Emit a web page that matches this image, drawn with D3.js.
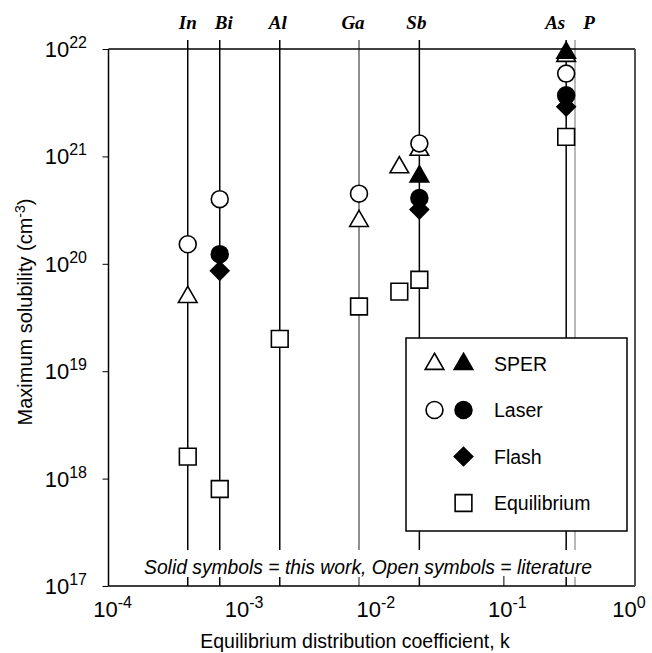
<!DOCTYPE html>
<html lang="en">
<head>
<meta charset="UTF-8">
<title>solubility vs k</title>
<script src="https://cdn.jsdelivr.net/npm/d3@7"></script>
<style>
  body { margin: 0; background: #fff; }
  text { font-family: "Liberation Sans", Arial, sans-serif; }
</style>
</head>
<body>
<svg id="chart" width="652" height="653"></svg>
<script>
// elements and their equilibrium distribution coefficients
const elements = ["In", "Bi", "Al", "Ga", "Sb", "As", "P"];
const kValues = [4e-4, 7e-4, 2e-3, 8e-3, 0.023, 0.3, 0.35];

// [k, max solubility]
const sperLit = [[4e-4, 4.9e19], [8e-3, 2.5e20], [0.0162, 7.9e20], [0.023, 1.15e21], [0.3, 8.6e21]];
const sperThis = [[0.023, 6.5e20], [0.3, 9.2e21]];
const laserLit = [[4e-4, 1.52e20], [7e-4, 4.0e20], [8e-3, 4.5e20], [0.023, 1.32e21], [0.3, 5.9e21]];
const laserThis = [[7e-4, 1.23e20], [0.023, 4.1e20], [0.3, 3.7e21]];
const flashThis = [[7e-4, 8.6e19], [0.023, 3.2e20], [0.3, 2.9e21]];
const equilibrium = [[4e-4, 1.6e18], [7e-4, 8.0e17], [2e-3, 2.0e19], [8e-3, 4.0e19], [0.0162, 5.5e19], [0.023, 7.1e19], [0.3, 1.52e21]];

const xTicks = [1e-4, 1e-3, 1e-2, 1e-1, 1];
const xTickExp = ["-4", "-3", "-2", "-1", "0"];
const yTicks = [1e17, 1e18, 1e19, 1e20, 1e21, 1e22];
const yTickExp = ["17", "18", "19", "20", "21", "22"];

const legendRows = ["SPER", "Laser", "Flash", "Equilibrium"];

const pLeft = 108.5, pRight = 635, pTop = 49, pBottom = 586;

const x = d3.scaleLog().domain([1e-4, 1]).range([pLeft, pRight]);
const y = d3.scaleLog().domain([1e17, 1e22]).range([pBottom, pTop]);

const svg = d3.select("#chart");

// element lines
svg.append("g")
    .selectAll("line")
    .data(kValues)
    .join("line")
    .attr("x1", d => x(d)).attr("x2", d => x(d))
    .attr("y1", 40).attr("y2", pBottom)
    .attr("stroke", (d, i) => elements[i] === "P" ? "#888" : (elements[i] === "Ga" ? "#444" : "#000"))
    .attr("stroke-width", (d, i) => elements[i] === "Ga" || elements[i] === "P" ? 1.2 : 1.5);

// top labels (small nudges so they sit like the original)
const labelShift = { In: 0, Bi: 4, Al: -2, Ga: -6, Sb: -3, As: -11, P: 14 };
svg.append("g")
    .selectAll("text")
    .data(elements)
    .join("text")
    .attr("x", (d, i) => x(kValues[i]) + labelShift[d])
    .attr("y", 29)
    .attr("text-anchor", "middle")
    .style("font-family", "'Liberation Serif', 'DejaVu Serif', serif")
    .style("font-weight", "bold")
    .style("font-style", "italic")
    .style("font-size", "19px")
    .text(d => d);

// annotation background covers the element lines
svg.append("rect")
    .attr("x", pLeft + 1).attr("y", 550)
    .attr("width", pRight - pLeft - 2).attr("height", 27)
    .attr("fill", "#fff");

svg.append("text")
    .attr("x", 368)
    .attr("y", 574)
    .attr("text-anchor", "middle")
    .style("font-style", "italic")
    .style("font-size", "19.3px")
    .text("Solid symbols = this work, Open symbols = literature");

// x axis inner tick at 0.1
svg.append("g")
    .attr("transform", `translate(0,${pBottom})`)
    .call(d3.axisBottom(x).tickValues([0.1]).tickSize(-10).tickFormat(""))
    .call(g => g.select(".domain").remove())
    .call(g => g.selectAll("line").attr("stroke", "#000").attr("stroke-width", 1));

// frame
svg.append("line").attr("x1", pLeft).attr("x2", pLeft).attr("y1", pTop).attr("y2", pBottom)
    .attr("stroke", "#000").attr("stroke-width", 1.5);
svg.append("line").attr("x1", pLeft).attr("x2", pRight).attr("y1", pTop).attr("y2", pTop)
    .attr("stroke", "#000").attr("stroke-width", 1.5);
svg.append("line").attr("x1", pLeft).attr("x2", pRight).attr("y1", pBottom).attr("y2", pBottom)
    .attr("stroke", "#000").attr("stroke-width", 1.5);
svg.append("line").attr("x1", pRight).attr("x2", pRight).attr("y1", pTop).attr("y2", pBottom)
    .attr("stroke", "#555").attr("stroke-width", 2);

// y ticks
svg.append("g")
    .attr("transform", `translate(${pLeft},0)`)
    .call(d3.axisLeft(y).tickValues(yTicks).tickSize(6).tickFormat(""))
    .call(g => g.select(".domain").remove())
    .call(g => g.selectAll("line").attr("stroke", "#000"));

const yLab = svg.append("g")
    .selectAll("text")
    .data(yTicks)
    .join("text")
    .attr("x", 87)
    .attr("y", d => y(d) + 8)
    .attr("text-anchor", "end")
    .style("font-size", "22px");
yLab.append("tspan").text("10");
yLab.append("tspan").attr("dy", -9).style("font-size", "16px").text((d, i) => yTickExp[i]);

const xLab = svg.append("g")
    .selectAll("text")
    .data(xTicks)
    .join("text")
    .attr("x", (d, i) => x(d) + (i === xTicks.length - 1 ? -6 : 4))
    .attr("y", 617)
    .attr("text-anchor", "middle")
    .style("font-size", "22px");
xLab.append("tspan").text("10");
xLab.append("tspan").attr("dy", -9).style("font-size", "16px").text((d, i) => xTickExp[i]);

// axis titles
svg.append("text")
    .attr("x", 355).attr("y", 648)
    .attr("text-anchor", "middle")
    .style("font-size", "19.5px")
    .text("Equilibrium distribution coefficient, k");

const yTitle = svg.append("text")
    .attr("transform", `translate(32,312) rotate(-90)`)
    .attr("text-anchor", "middle")
    .style("font-size", "20px");
yTitle.append("tspan").text("Maximum solubility (cm");
yTitle.append("tspan").attr("dy", -7).style("font-size", "14px").text("-3");
yTitle.append("tspan").attr("dy", 7).text(")");

// markers
const triangle = d3.symbol().type(d3.symbolTriangle).size(150);
const circle = d3.symbol().type(d3.symbolCircle).size(225);
const square = d3.symbol().type(d3.symbolSquare).size(280);
const diamond = d3.symbol().type(d3.symbolSquare).size(170);

function drawSeries(data, path, filled, rotate) {
    svg.append("g")
        .selectAll("path")
        .data(data)
        .join("path")
        .attr("d", path)
        .attr("transform", d => `translate(${x(d[0])},${y(d[1])})` + (rotate ? " rotate(45)" : ""))
        .attr("fill", filled ? "#000" : "#fff")
        .attr("stroke", "#000")
        .attr("stroke-width", 1.6);
}

drawSeries(equilibrium, square, false);
drawSeries(sperLit, triangle, false);
drawSeries(laserLit, circle, false);
drawSeries(flashThis, diamond, true, true);
drawSeries(laserThis, circle, true);
drawSeries(sperThis, triangle, true);

// legend
const leg = svg.append("g").attr("transform", "translate(406,338)");
leg.append("rect")
    .attr("width", 221).attr("height", 193)
    .attr("fill", "#fff").attr("stroke", "#000").attr("stroke-width", 1.5);

const rowY = [26, 72, 118.5, 165];
const legSymbols = [
    [[triangle, false, false], [triangle, true, false]],
    [[circle, false, false], [circle, true, false]],
    [null, [diamond, true, true]],
    [null, [square, false, false]]
];
legendRows.forEach((name, i) => {
    legSymbols[i].forEach((s, j) => {
        if (!s) return;
        leg.append("path")
            .attr("d", s[0])
            .attr("transform", `translate(${j === 0 ? 28.5 : 57.5},${rowY[i]})` + (s[2] ? " rotate(45)" : ""))
            .attr("fill", s[1] ? "#000" : "#fff")
            .attr("stroke", "#000")
            .attr("stroke-width", 1.6);
    });
    leg.append("text")
        .attr("x", 88).attr("y", rowY[i] + 7)
        .style("font-size", "19.5px")
        .text(name);
});
</script>
</body>
</html>
